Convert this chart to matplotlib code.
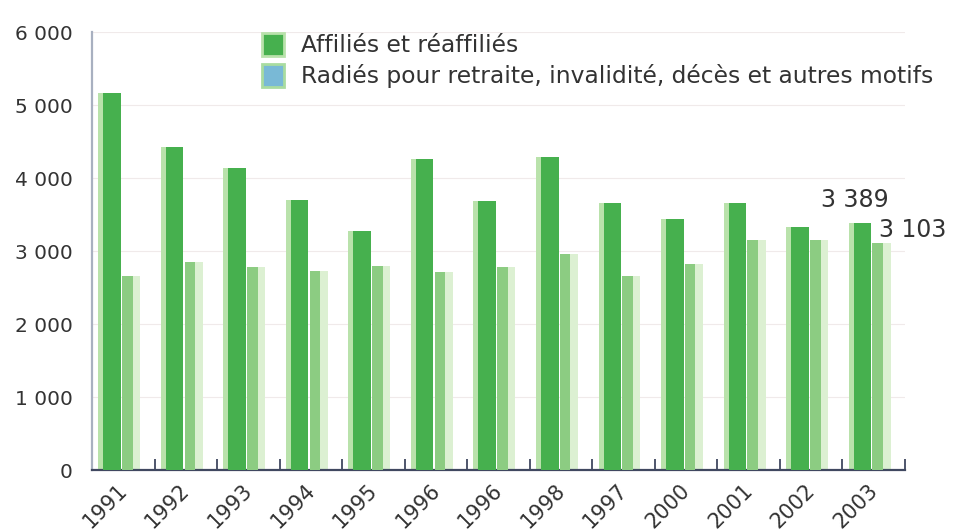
import numpy as np
import matplotlib.pyplot as plt
from matplotlib.patches import Patch
from matplotlib.ticker import FuncFormatter, FixedLocator

years = ["1991", "1992", "1993", "1994", "1995", "1996", "1996",
         "1998", "1997", "2000", "2001", "2002", "2003"]
affilies = [5160, 4420, 4140, 3700, 3270, 4260, 3690,
            4290, 3660, 3440, 3660, 3330, 3389]
radies = [2660, 2850, 2780, 2730, 2790, 2710, 2780,
          2960, 2660, 2820, 3150, 3150, 3103]

plt.rcParams['font.family'] = ['DejaVu Sans']

fig = plt.figure(figsize=(9.54, 5.30), dpi=100)
ax = fig.add_axes([0.0964, 0.1132, 0.8522, 0.8264])

x = np.arange(len(years))

# affiliés: pale edge strip + darker green core
ax.bar(x - 0.22, affilies, width=0.36, color='#b9e2ab', zorder=2)
ax.bar(x - 0.18, affilies, width=0.28, color='#46b04e', zorder=3)
# radiés: pale bar with a mid-green left part
ax.bar(x + 0.125, radies, width=0.29, color='#dcf0d2', zorder=2)
ax.bar(x + 0.065, radies, width=0.17, color='#8ccc82', zorder=3)

ax.set_xlim(-0.5, len(years) - 0.5)
ax.set_ylim(0, 6000)

ax.set_yticks(range(0, 6001, 1000))
ax.yaxis.set_major_formatter(FuncFormatter(lambda v, p: f"{int(v):,}".replace(",", " ")))
ax.tick_params(axis='y', length=0, pad=14, labelsize=14.5, labelcolor='#333333')
ax.grid(axis='y', color='#f0eaea', linewidth=0.8, zorder=0)

ax.set_xticks(x - 0.1)
ax.set_xticklabels(years, rotation=45, ha='right', rotation_mode='anchor',
                   fontsize=15, color='#333333')
ax.tick_params(axis='x', which='major', length=0, pad=7)
ax.xaxis.set_minor_locator(FixedLocator(np.arange(0.5, len(years), 1.0)))
ax.tick_params(axis='x', which='minor', direction='in', length=8, width=1.3, color='#404860')

for s in ['top', 'right']:
    ax.spines[s].set_visible(False)
ax.spines['left'].set_color('#a8b0c0')
ax.spines['left'].set_linewidth(1.6)
ax.spines['bottom'].set_color('#404860')
ax.spines['bottom'].set_linewidth(1.6)

# values of the last year
ax.annotate("3 389", (x[-1] - 0.22, affilies[-1]), xytext=(-5, 23),
            textcoords='offset pixels', ha='center', va='center',
            fontsize=17, color='#333333')
ax.annotate("3 103", (x[-1] + 0.125, radies[-1]), xytext=(-3, 13),
            textcoords='offset pixels', ha='left', va='center',
            fontsize=17, color='#333333')

handles = [Patch(facecolor='#46b04e', edgecolor='#b9e2ab', linewidth=2),
           Patch(facecolor='#79b9d6', edgecolor='#a9dca0', linewidth=2)]
labels = ["Affiliés et réaffiliés",
          "Radiés pour retraite, invalidité, décès et autres motifs"]
fig.legend(handles, labels, loc='upper left', bbox_to_anchor=(0.265, 0.955),
           frameon=False, fontsize=16.8, handlelength=0.95, handleheight=1.1,
           handletextpad=0.7, labelspacing=0.3, borderaxespad=0,
           labelcolor='#333333')

fig.savefig("out.png", dpi=100)
